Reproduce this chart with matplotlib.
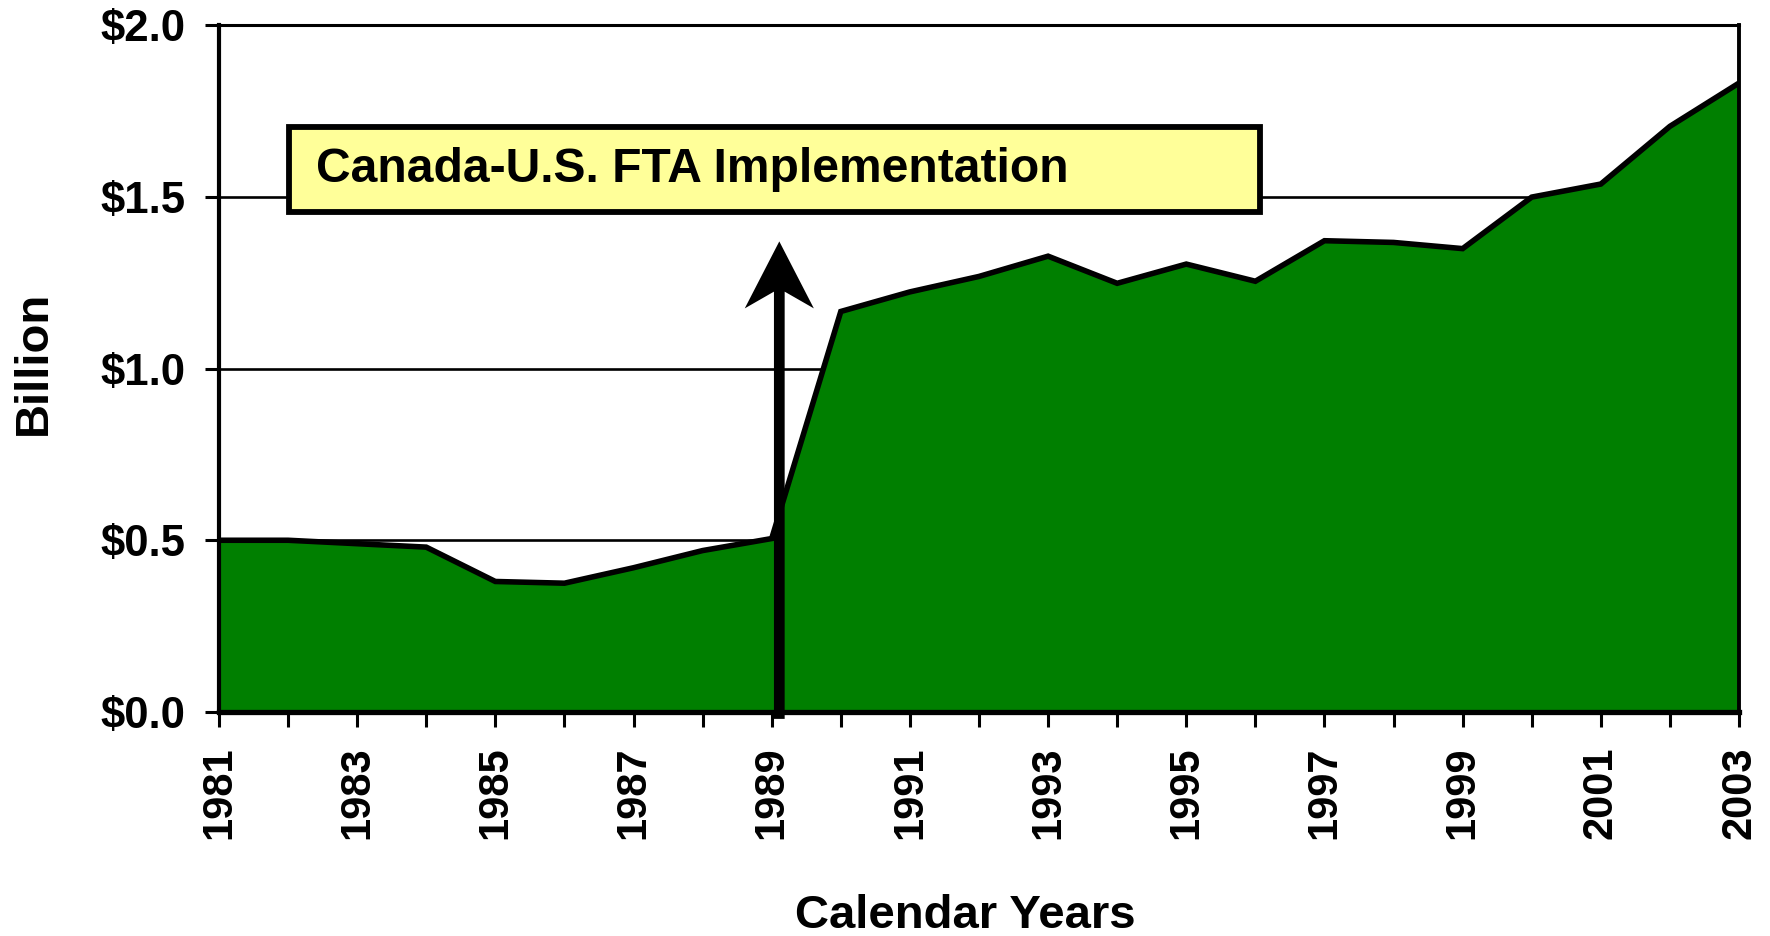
import matplotlib
matplotlib.use("Agg")
import matplotlib.pyplot as plt
from matplotlib.patches import Rectangle, FancyArrow

years = list(range(1981, 2004))
values = [0.50, 0.50, 0.49, 0.48, 0.38, 0.375, 0.42, 0.47, 0.505,
          1.166, 1.223, 1.268, 1.327, 1.248, 1.304, 1.254, 1.372, 1.367,
          1.349, 1.499, 1.537, 1.705, 1.831]
y_ticks = [0.0, 0.5, 1.0, 1.5, 2.0]
y_tick_labels = ["$0.0", "$0.5", "$1.0", "$1.5", "$2.0"]
x_tick_labels = [str(y) if (y - 1981) % 2 == 0 else "" for y in years]
annotation_text = "Canada-U.S. FTA Implementation"
fta_year = 1989.11

plt.rcParams['font.family'] = ['Liberation Sans', 'DejaVu Sans']
plt.rcParams['font.weight'] = 'bold'

fig = plt.figure(figsize=(17.7, 9.36), dpi=100)
ax = fig.add_axes([0.1237, 0.2393, 0.9825 - 0.1237, 0.9733 - 0.2393])

green = '#007F00'
ax.fill_between(years, values, 0, color=green, lw=0, zorder=2)
ax.plot(years, values, color='black', lw=4.0, zorder=3, solid_joinstyle='miter')

ax.set_xlim(1981, 2003)
ax.set_ylim(0, 2.0)
ax.set_yticks(y_ticks)
ax.set_yticklabels(y_tick_labels)
ax.set_xticks(years)
ax.set_xticklabels(x_tick_labels, rotation=90)

ax.yaxis.grid(True, color='black', lw=1.9, zorder=1)
ax.set_axisbelow(True)

ax.tick_params(axis='y', direction='out', length=10, width=2.2, labelsize=31.5, pad=14)
ax.tick_params(axis='x', direction='out', length=11, width=2.2, labelsize=30, pad=14)
for lab in ax.get_xticklabels() + ax.get_yticklabels():
    lab.set_fontweight('bold')

ax.spines['left'].set_linewidth(3.0)
ax.spines['bottom'].set_linewidth(3.8)
ax.spines['top'].set_linewidth(2.2)
ax.spines['right'].set_linewidth(2.8)
for s in ax.spines.values():
    s.set_zorder(4)

fig.text(965 / 1770, (936 - 928) / 936, "Calendar Years", fontsize=34,
         fontweight='bold', ha='center', va='baseline')
fig.text(45.7 / 1770, (936 - 362.4) / 936, "Billion", fontsize=34,
         fontweight='bold', ha='center', va='baseline', rotation=90,
         rotation_mode='anchor')

# annotation box
box = Rectangle((1982.01, 1.455), 1996.07 - 1982.01, 1.704 - 1.455,
                facecolor='#FFFF99', edgecolor='black', lw=4.2, zorder=5)
ax.add_patch(box)
ax.text(1982.40, 1.578, annotation_text, fontsize=34.6, fontweight='bold',
        va='center', ha='left', zorder=6)

# arrow
arr = FancyArrow(fta_year, -0.02, 0, 1.370 + 0.02, width=0.155,
                 head_width=1.0, head_length=0.195, overhang=0.25,
                 length_includes_head=True, facecolor='black',
                 edgecolor='black', lw=0, zorder=6, clip_on=False)
ax.add_patch(arr)

fig.savefig("out.png", dpi=100)
